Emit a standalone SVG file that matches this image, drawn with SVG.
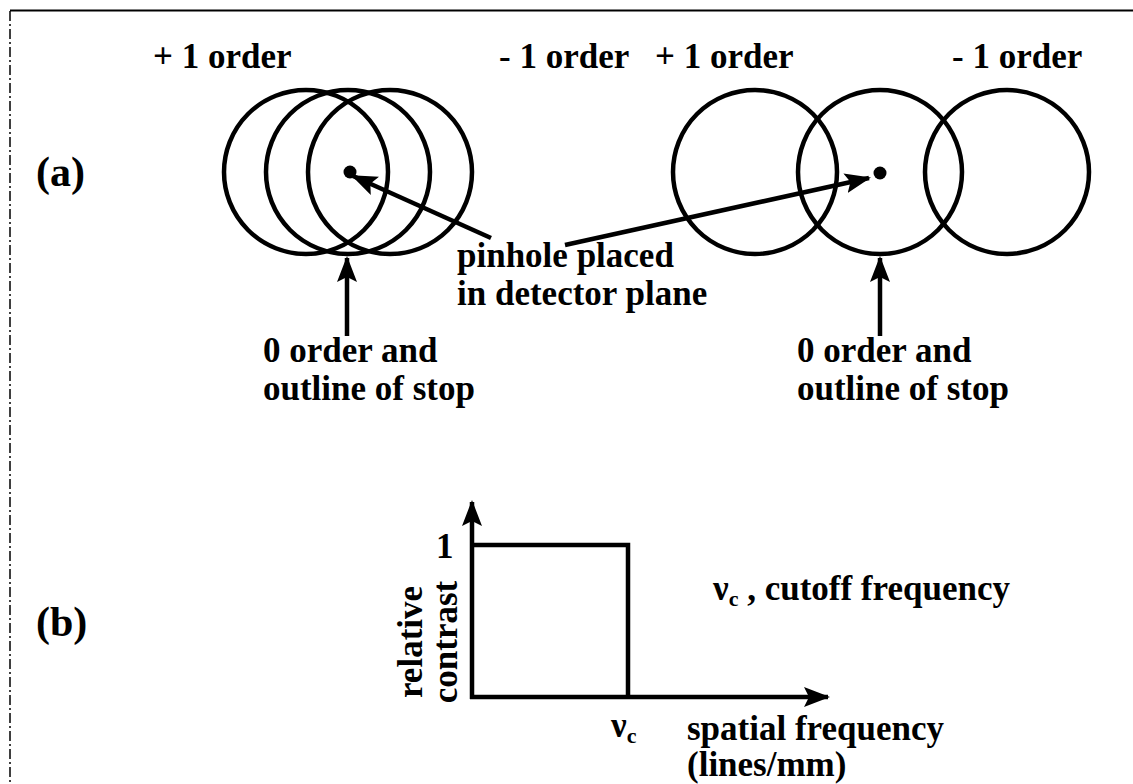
<svg xmlns="http://www.w3.org/2000/svg" width="1133" height="784" viewBox="0 0 1133 784">
<defs>
<marker id="ah" markerUnits="userSpaceOnUse" markerWidth="26" markerHeight="20" viewBox="0 0 26 20" refX="24" refY="10" orient="auto">
<path d="M0,0 L26,10 L0,20 L5,10 Z" fill="#000"/>
</marker>
</defs>
<style>
text{font-family:"Liberation Serif","Times New Roman",serif;font-weight:bold;font-size:35px;fill:#000}
.lbl{font-size:42px}
.ring{fill:none;stroke:#000;stroke-width:4.5}
.ln{fill:none;stroke:#000;stroke-width:4.5}
.sub{font-size:22px}
</style>
<rect width="1133" height="784" fill="#fff"/>
<g id="frame">
<line x1="10" y1="10.5" x2="1133" y2="10.5" stroke="#000" stroke-width="2"/>
<line x1="10" y1="11" x2="10" y2="784" stroke="#000" stroke-width="1.5" stroke-dasharray="10 3 2 3"/>
</g>
<g id="label-a"><text class="lbl" x="36" y="186">(a)</text></g>
<g id="label-b"><text class="lbl" x="36" y="636">(b)</text></g>
<g id="order-labels">
<text x="153" y="68">+ 1 order</text>
<text x="499" y="68">- 1 order</text>
<text x="655" y="68">+ 1 order</text>
<text x="952" y="68">- 1 order</text>
</g>
<g id="left-rings">
<circle class="ring" cx="306" cy="172" r="82"/>
<circle class="ring" cx="348" cy="172" r="82"/>
<circle class="ring" cx="390" cy="172" r="82"/>
<circle cx="350" cy="172" r="6.5" fill="#000"/>
</g>
<g id="right-rings">
<circle class="ring" cx="755" cy="172" r="82"/>
<circle class="ring" cx="880" cy="172" r="82"/>
<circle class="ring" cx="1007" cy="172" r="82"/>
<circle cx="880" cy="173" r="6.5" fill="#000"/>
</g>
<g id="pinhole-label">
<text x="457" y="267">pinhole placed</text>
<text x="457" y="305">in detector plane</text>
</g>
<g id="stop-left">
<text x="263" y="362">0 order and</text>
<text x="263" y="400">outline of stop</text>
</g>
<g id="stop-right">
<text x="797" y="362">0 order and</text>
<text x="797" y="400">outline of stop</text>
</g>
<g id="connectors">
<line class="ln" x1="491" y1="238" x2="353" y2="176" marker-end="url(#ah)"/>
<line class="ln" x1="565" y1="245" x2="869" y2="178" marker-end="url(#ah)"/>
<line class="ln" x1="347" y1="336" x2="347" y2="258" marker-end="url(#ah)"/>
<line class="ln" x1="880" y1="336" x2="880" y2="258" marker-end="url(#ah)"/>
</g>
<g id="graph">
<line class="ln" x1="472" y1="699" x2="472" y2="502" marker-end="url(#ah)"/>
<line class="ln" x1="470" y1="697" x2="828" y2="697" marker-end="url(#ah)"/>
<polyline class="ln" points="472,545 628,545 628,697"/>
<text x="436" y="558">1</text>
<text transform="translate(422,642) rotate(-90)" text-anchor="middle">relative</text>
<text transform="translate(457,642) rotate(-90)" text-anchor="middle">contrast</text>
<text x="611" y="737">ν<tspan class="sub" dy="6">c</tspan></text>
<text x="687" y="740">spatial frequency</text>
<text x="687" y="776">(lines/mm)</text>
<text x="713" y="600">ν<tspan class="sub" dy="6">c</tspan><tspan dy="-6"> , cutoff frequency</tspan></text>
</g>
</svg>
